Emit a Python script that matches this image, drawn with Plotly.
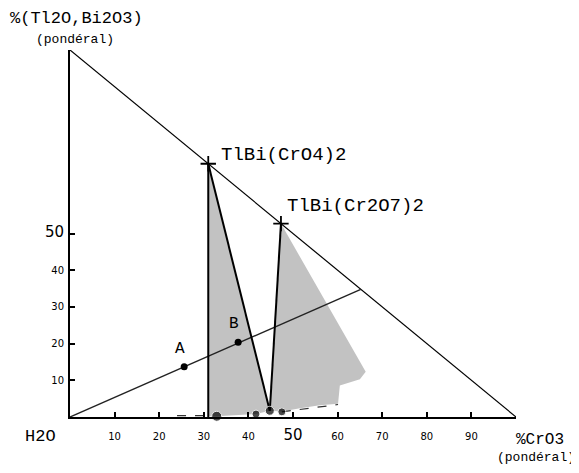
import plotly.graph_objects as go

# ---- data (weight %) ----
x_ticks = [10, 20, 30, 40, 50, 60, 70, 80, 90]
x_ticklabels = ["10", "20", "30", "40", "50", "60", "70", "80", "90"]
y_ticks = [10, 20, 30, 40, 50]
y_ticklabels = ["10", "20", "30", "40", "50"]

# triangle side: oxide corner -> CrO3 corner
hyp_x = [0, 100]
hyp_y = [100, 0]

# compounds on the anhydrous side
comp_names = ["TlBi(CrO4)2", "TlBi(Cr2O7)2"]
comp_x = [31.0, 47.3]
comp_y = [69.0, 52.7]

# invariant point
inv_x = [44.8]
inv_y = [1.7]

# solubility curve points (dots)
sol_x = [32.9, 41.7, 44.8, 47.5]
sol_y = [0.2, 0.8, 1.7, 1.4]
sol_size = [10, 8, 9, 8]

# dilution line through A and B
dil_x = [0, 65.2]
dil_y = [0, 34.8]
ab_names = ["A", "B"]
ab_x = [25.6, 37.7]
ab_y = [13.7, 20.4]

# grey two-phase domains
dom1_x = [31.0, 31.0, 32.9, 41.7, 44.8, 31.0]
dom1_y = [69.0, 0.2, 0.2, 0.8, 1.7, 69.0]
dom2_x = [47.3, 66.3, 65.0, 60.5, 60.1, 56.0, 51.6, 47.5, 44.8, 47.3]
dom2_y = [52.7, 12.3, 10.3, 8.6, 3.6, 3.2, 2.4, 1.5, 1.7, 52.7]

# dashed parts of the solubility curve
dash1_x = [24.0, 30.8]
dash1_y = [0.35, 0.35]
dash2_x = [47.5, 53.0, 60.1]
dash2_y = [1.4, 2.2, 3.4]

fig = go.Figure()

grey = "#c2c2c2"
fig.add_trace(go.Scatter(x=dom1_x, y=dom1_y, mode="lines", fill="toself",
                         fillcolor=grey, line=dict(width=0), hoverinfo="skip"))
fig.add_trace(go.Scatter(x=dom2_x, y=dom2_y, mode="lines", fill="toself",
                         fillcolor=grey, line=dict(width=0), hoverinfo="skip"))

# hypotenuse
fig.add_trace(go.Scatter(x=hyp_x, y=hyp_y, mode="lines",
                         line=dict(color="black", width=1.2)))
# dilution line
fig.add_trace(go.Scatter(x=dil_x, y=dil_y, mode="lines",
                         line=dict(color="#222", width=1.4)))
# tie lines
fig.add_trace(go.Scatter(x=[comp_x[0], comp_x[0]], y=[comp_y[0], 0], mode="lines",
                         line=dict(color="black", width=2)))
fig.add_trace(go.Scatter(x=[comp_x[0], inv_x[0]], y=[comp_y[0], inv_y[0]], mode="lines",
                         line=dict(color="black", width=2)))
fig.add_trace(go.Scatter(x=[comp_x[1], inv_x[0]], y=[comp_y[1], inv_y[0]], mode="lines",
                         line=dict(color="black", width=2)))
# dashed solubility curve pieces
fig.add_trace(go.Scatter(x=dash1_x, y=dash1_y, mode="lines",
                         line=dict(color="#333", width=1.2, dash="dash")))
fig.add_trace(go.Scatter(x=dash2_x, y=dash2_y, mode="lines",
                         line=dict(color="#333", width=1.2, dash="dash")))
# solubility points
fig.add_trace(go.Scatter(x=sol_x, y=sol_y, mode="markers",
                         marker=dict(color="black", size=sol_size), cliponaxis=False))
# A, B points
fig.add_trace(go.Scatter(x=ab_x, y=ab_y, mode="markers",
                         marker=dict(color="black", size=7)))
# compounds
fig.add_trace(go.Scatter(x=comp_x, y=comp_y, mode="markers",
                         marker=dict(symbol="cross-thin", size=11,
                                     line=dict(color="black", width=1.8))))

mono = "Liberation Mono"
label_shift = [(11, 9), (4, 18)]
for name, cx, cy, (dx, dy) in zip(comp_names, comp_x, comp_y, label_shift):
    fig.add_annotation(x=cx, y=cy, text=name, showarrow=False, xanchor="left",
                       yanchor="middle", xshift=dx, yshift=dy,
                       font=dict(family=mono, size=19, color="black"))
for name, ax_, ay_ in zip(ab_names, ab_x, ab_y):
    fig.add_annotation(x=ax_, y=ay_, text=name, showarrow=False,
                       xshift=-4, yshift=18,
                       font=dict(family=mono, size=16, color="black"))

fig.add_annotation(xref="paper", yref="paper", x=-0.139, y=1.087, text="%(Tl2O,Bi2O3)",
                   showarrow=False, xanchor="left", yanchor="middle",
                   font=dict(family=mono, size=17, color="black"))
fig.add_annotation(xref="paper", yref="paper", x=0.012, y=1.028, text="(pondéral)",
                   showarrow=False, xanchor="center", yanchor="middle",
                   font=dict(family=mono, size=13, color="black"))
fig.add_annotation(xref="paper", yref="paper", x=-0.067, y=-0.054, text="H2O",
                   showarrow=False, xanchor="center", yanchor="middle",
                   font=dict(family=mono, size=17, color="black"))
fig.add_annotation(xref="paper", yref="paper", x=1.054, y=-0.062, text="%CrO3",
                   showarrow=False, xanchor="center", yanchor="middle",
                   font=dict(family=mono, size=16, color="black"))
fig.add_annotation(xref="paper", yref="paper", x=1.045, y=-0.109, text="(pondéral)",
                   showarrow=False, xanchor="center", yanchor="middle",
                   font=dict(family=mono, size=13, color="black"))

def tt(labels):
    return [('<span style="font-size:15px">%s</span>' % s) if s == "50" else s for s in labels]

fig.update_xaxes(range=[0, 100], showline=True, linewidth=2, linecolor="black",
                 ticks="inside", ticklen=5, tickwidth=1.5, tickcolor="black",
                 tickvals=x_ticks, ticktext=tt(x_ticklabels), showgrid=False,
                 zeroline=False, ticklabelstandoff=9,
                 tickfont=dict(family="DejaVu Sans", size=10, color="black"))
fig.update_yaxes(range=[0, 100], showline=True, linewidth=2, linecolor="black",
                 ticks="inside", ticklen=5, tickwidth=1.5, tickcolor="black",
                 tickvals=y_ticks, ticktext=tt(y_ticklabels), showgrid=False,
                 zeroline=False, ticklabelstandoff=2,
                 tickfont=dict(family="DejaVu Sans", size=10, color="black"))

# the page adds an 8px body margin, so the figure is 8px smaller than the window
fig.update_layout(width=571, height=465, showlegend=False,
                  margin=dict(l=62, r=63, t=42, b=56, autoexpand=False),
                  plot_bgcolor="white", paper_bgcolor="white")

fig.write_html("out.html")
